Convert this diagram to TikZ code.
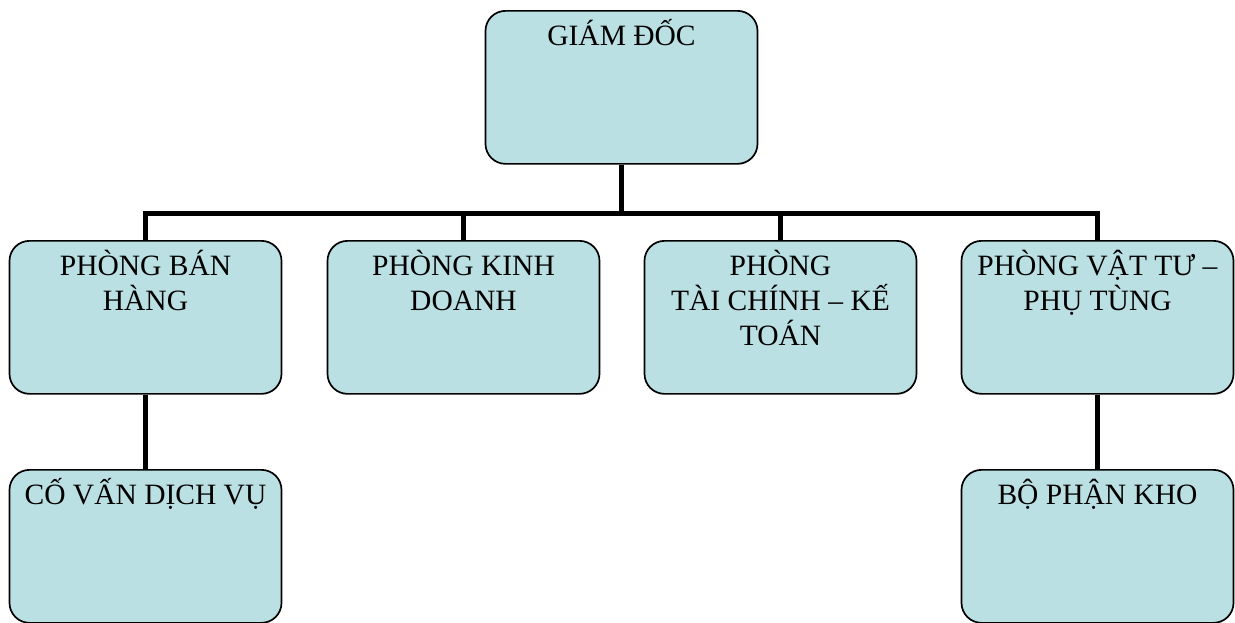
\documentclass[tikz,border=0pt]{standalone}
\usepackage{fontspec}
\setmainfont{Liberation Serif}
\usepackage{xcolor}
\usepackage{tikz}

\definecolor{boxblue}{HTML}{BAE0E3}
\newcommand{\unittext}[1]{\parbox[c][153pt][t]{266pt}{\centering\rule{0pt}{35pt}#1}}

\tikzset{
  unit/.style = {draw, line width = 1.7pt, fill = boxblue, rounded corners = 20pt,
    inner sep = 0pt, minimum width = 272pt, anchor = north,
    font = \fontsize{29.5}{35}\selectfont},
  link/.style = {line width = 5pt}
}

\begin{document}
\begin{tikzpicture}[x = 1pt, y = -1pt]
    \useasboundingbox (0, 0) rectangle (1235, 622);
    \node[unit] (gd) at (621.5, 10) {\unittext{GIÁM ĐỐC}};
    \node[unit] (ban) at (145.5, 240) {\unittext{PHÒNG BÁN\\HÀNG}};
    \node[unit] (kd) at (463.5, 240) {\unittext{PHÒNG KINH\\DOANH}};
    \node[unit] (tc) at (780.5, 240) {\unittext{PHÒNG\\TÀI CHÍNH – KẾ\\TOÁN}};
    \node[unit] (vt) at (1097.5, 240) {\unittext{PHÒNG VẬT TƯ –\\PHỤ TÙNG}};
    \node[unit] (cv) at (145.5, 469) {\unittext{CỐ VẤN DỊCH VỤ}};
    \node[unit] (kho) at (1097.5, 469) {\unittext{BỘ PHẬN KHO}};
    \coordinate (bus) at (621.5, 213);
    \draw[link] (gd.south) -- (bus);
    \foreach \n in {ban, kd, tc, vt}
      {\draw[link] (\n.north) |- (bus);}
    \draw[link] (ban.south) -- (cv.north);
    \draw[link] (vt.south) -- (kho.north);
  \end{tikzpicture}
\end{document}
